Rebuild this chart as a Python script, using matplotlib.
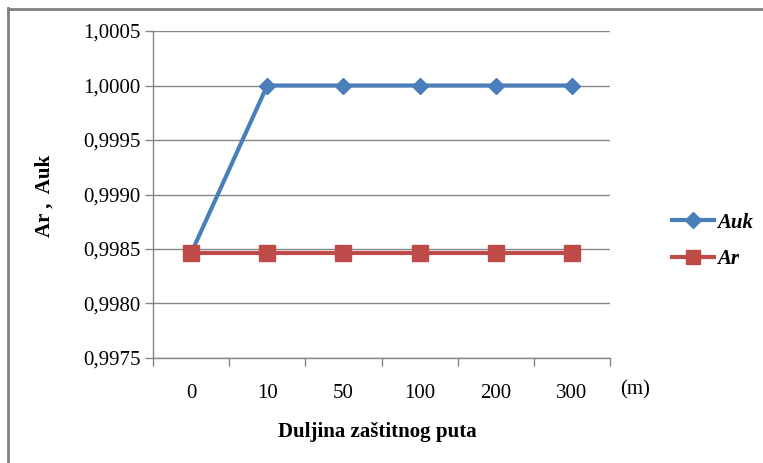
import matplotlib
matplotlib.use("Agg")
import matplotlib.pyplot as plt
from matplotlib.lines import Line2D
import numpy as np

categories = ["0", "10", "50", "100", "200", "300"]
auk = [0.99846, 1.0000, 1.0000, 1.0000, 1.0000, 1.0000]
ar = [0.99846, 0.99846, 0.99846, 0.99846, 0.99846, 0.99846]
y_ticks = [0.9975, 0.9980, 0.9985, 0.9990, 0.9995, 1.0000, 1.0005]

blue = "#4A7EBB"
red = "#BE4B48"
grid_c = "#868686"
fs = 15

plt.rcParams["font.family"] = ["Liberation Serif", "DejaVu Serif"]

fig = plt.figure(figsize=(7.63, 4.63), dpi=100)
ax = fig.add_axes([0.2005, 0.2268, 0.5990, 0.7062])

x = np.arange(len(categories))
ax.plot(x, auk, color=blue, lw=3, marker="D", ms=8, markeredgecolor=blue,
        markerfacecolor=blue, zorder=3, label="Auk")
ax.plot(x, ar, color=red, lw=3, marker="s", ms=11, markeredgecolor=red,
        markerfacecolor=red, zorder=4, label="Ar")

ax.set_xlim(-0.5, len(categories) - 0.5)
ax.set_ylim(y_ticks[0], y_ticks[-1])
ax.set_yticks(y_ticks)
ax.set_yticklabels([f"{v:.4f}".replace(".", ",") for v in y_ticks], fontsize=fs)
ax.yaxis.grid(True, color=grid_c, lw=1)
ax.set_axisbelow(True)

ax.set_xticks(np.arange(-0.5, len(categories), 1.0))
ax.set_xticklabels([])
ax.set_xticks(x, minor=True)
ax.set_xticklabels(categories, minor=True, fontsize=fs)
ax.tick_params(axis="x", which="major", length=6, color=grid_c, width=1)
ax.tick_params(axis="x", which="minor", length=0, pad=19)
ax.tick_params(axis="y", length=6, color=grid_c, width=1, pad=3)

for side in ["top", "right"]:
    ax.spines[side].set_visible(False)
for side in ["left", "bottom"]:
    ax.spines[side].set_color(grid_c)
    ax.spines[side].set_linewidth(1)

fig.text(45 / 763, 1 - 196 / 463, "Ar ,  Auk", rotation=90, ha="center", va="center",
         fontsize=fs, fontweight="bold")
fig.text(377 / 763, 1 - 432 / 463, "Duljina zaštitnog puta", ha="center", va="center",
         fontsize=fs, fontweight="bold")
fig.text(635 / 763, 1 - 390 / 463, "(m)", ha="center", va="center", fontsize=fs)

# legend drawn in figure coordinates to the right of the plot
handles = [
    Line2D([], [], color=blue, lw=3, marker="D", ms=8),
    Line2D([], [], color=red, lw=3, marker="s", ms=10),
]
fig.legend(handles, ["Auk", "Ar"], loc="center left",
           bbox_to_anchor=(662 / 763, 1 - 241 / 463), frameon=False,
           prop={"family": "Liberation Serif", "weight": "bold", "style": "italic", "size": fs},
           handlelength=2.0, handletextpad=0.15, labelspacing=0.8, borderpad=0)

# outer chart frame (left and top edges visible)
fig.add_artist(Line2D([8 / 763, 8 / 763], [0, 1 - 8 / 463], transform=fig.transFigure,
                      color="#808080", lw=2))
fig.add_artist(Line2D([8 / 763, 1], [1 - 8.5 / 463, 1 - 8.5 / 463], transform=fig.transFigure,
                      color="#808080", lw=2))

fig.savefig("out.png", dpi=100)
